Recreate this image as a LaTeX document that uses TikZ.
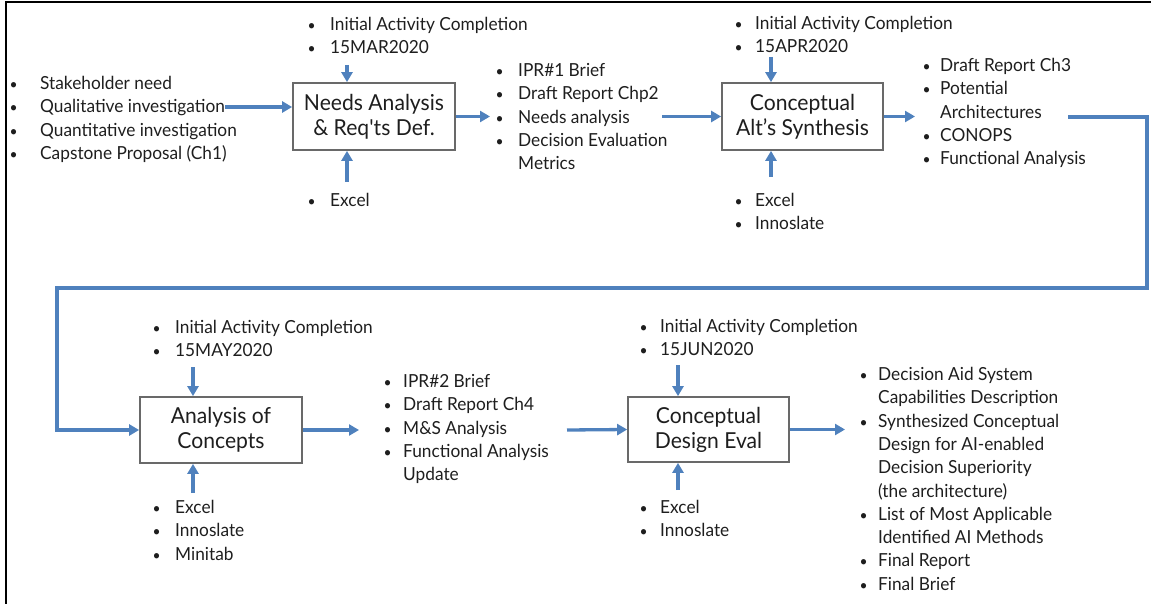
\documentclass[tikz,border=0pt]{standalone}
\usepackage{graphicx}
\usepackage{fontspec}
\setmainfont[FakeStretch=0.96]{Lato}
\usetikzlibrary{arrows.meta,calc}

\definecolor{flowblue}{RGB}{79,129,189}
\definecolor{boxgray}{RGB}{105,105,105}
\definecolor{ink}{RGB}{30,30,30}

% bullet list: #1 = width of the bullet column, #2 = rows
\newcommand\blist[2]{\begin{tabular}[t]{@{}p{#1pt}@{}l@{}}#2\end{tabular}}
\newcommand\bi{\scalebox{0.8}{\textbullet} &}

\tikzset{
  frame/.style={line width=2pt, black},
  flow/.style={line width=3.3pt, flowblue, -{Triangle[length=10pt,width=11pt]}},
  stage/.style={draw=boxgray, line width=1.7pt, fill=white, minimum width=162pt,
    minimum height=67pt, align=center, inner sep=0pt,
    font=\fontsize{22}{25}\selectfont, text=ink},
  items/.style={anchor=base west, inner sep=0pt,
    font=\fontsize{18}{23.3}\selectfont, text=ink},
}

\begin{document}
\begin{tikzpicture}[x=1pt,y=-1pt]
\useasboundingbox (0,0) rectangle (1151,604);

% outer frame (top and left edges)
\draw[frame] (6,604) -- (6,2) -- (1151,2);

% process stages
\node[stage] (s1) at (374,116.5) {Needs Analysis\\ \& Req\textquotesingle ts Def.};
\node[stage, minimum width=161pt] (s2) at (802.5,116.5) {Conceptual\\ Alt's Synthesis};
\node[stage, minimum height=66pt] (s3) at (221,430) {Analysis of\\ Concepts};
\node[stage, minimum width=161pt, minimum height=65pt] (s4) at (708.5,429.5) {Conceptual\\ Design Eval};

% stage 1
\node[items] (in0) at (9.5,89.5) {\blist{30.5}{\bi Stakeholder need\\ \bi Qualitative investigation\\ \bi Quantitative investigation\\ \bi Capstone Proposal (Ch1)}};
\node[items] (t1) at (307.5,30.5) {\blist{22.5}{\bi Initial Activity Completion\\ \bi 15MAR2020}};
\node[items] (b1) at (307.5,206.5) {\blist{22.5}{\bi Excel}};
\node[items] (o1) at (495.5,76.5) {\blist{22.5}{\bi IPR\#1 Brief\\ \bi Draft Report Chp2\\ \bi Needs analysis\\ \bi Decision Evaluation\\ & Metrics}};

% stage 2
\node[items] (t2) at (734.5,29.5) {\blist{20.5}{\bi Initial Activity Completion\\ \bi 15APR2020}};
\node[items] (b2) at (734.5,206.5) {\blist{20.5}{\bi Excel\\ \bi Innoslate}};
\node[items] (o2) at (922.5,71.5) {\blist{17.5}{\bi Draft Report Ch3\\ \bi Potential\\ & Architectures\\ \bi CONOPS\\ \bi Functional Analysis}};

% stage 3
\node[items] (t3) at (152.5,333.5) {\blist{22.5}{\bi Initial Activity Completion\\ \bi 15MAY2020}};
\node[items] (b3) at (152.5,513.5) {\blist{22.5}{\bi Excel\\ \bi Innoslate\\ \bi Minitab}};
\node[items] (o3) at (383.5,387.5) {\blist{19.5}{\bi IPR\#2 Brief\\ \bi Draft Report Ch4\\ \bi M\&S Analysis\\ \bi Functional Analysis\\ & Update}};

% stage 4
\node[items] (t4) at (639.5,332.5) {\blist{20.5}{\bi Initial Activity Completion\\ \bi 15JUN2020}};
\node[items] (b4) at (639.5,513.5) {\blist{20.5}{\bi Excel\\ \bi Innoslate}};
\node[items] (o4) at (859.5,380.5) {\blist{18.5}{\bi Decision Aid System\\ & Capabilities Description\\ \bi Synthesized Conceptual\\ & Design for AI-enabled\\ & Decision Superiority\\ & (the architecture)\\ \bi List of Most Applicable\\ & Identified AI Methods\\ \bi Final Report\\ \bi Final Brief}};

% free ends of the connectors
\coordinate (in0out) at (225,107);
\coordinate (o1in)   at (490,116.5);
\coordinate (o1out)  at (662,116.5);
\coordinate (o2in)   at (915,116.5);
\coordinate (o2out)  at (1068,117);
\coordinate (loopr)  at (1147,288);
\coordinate (loopl)  at (57,288);
\coordinate (o3in)   at (359,430);
\coordinate (o3out)  at (567,430);
\coordinate (o4in)   at (845,429.5);
\coordinate (t1out) at (347,65);   \coordinate (b1out) at (347,182);
\coordinate (t2out) at (771,57);   \coordinate (b2out) at (771,177);
\coordinate (t3out) at (193,367);  \coordinate (b3out) at (193,493);
\coordinate (t4out) at (678,365);  \coordinate (b4out) at (678,490);

% main flow
\draw[flow] (in0out) -- (in0out -| s1.west);
\draw[flow] (s1.east) -- (o1in);
\draw[flow] (o1out) -- (s2.west);
\draw[flow] (s2.east) -- (o2in);
\draw[flow] (o2out) -| (loopr) -- (loopl) |- (s3.west);
\draw[flow] (s3.east) -- (o3in);
\draw[flow] (o3out) -- (s4.west);
\draw[flow] (s4.east) -- (o4in);

% controls from above and mechanisms from below
\foreach \i in {1,2,3,4}{
  \draw[flow] (t\i out) -- (t\i out |- s\i.north);
  \draw[flow] (b\i out) -- (b\i out |- s\i.south);
}
\end{tikzpicture}
\end{document}
